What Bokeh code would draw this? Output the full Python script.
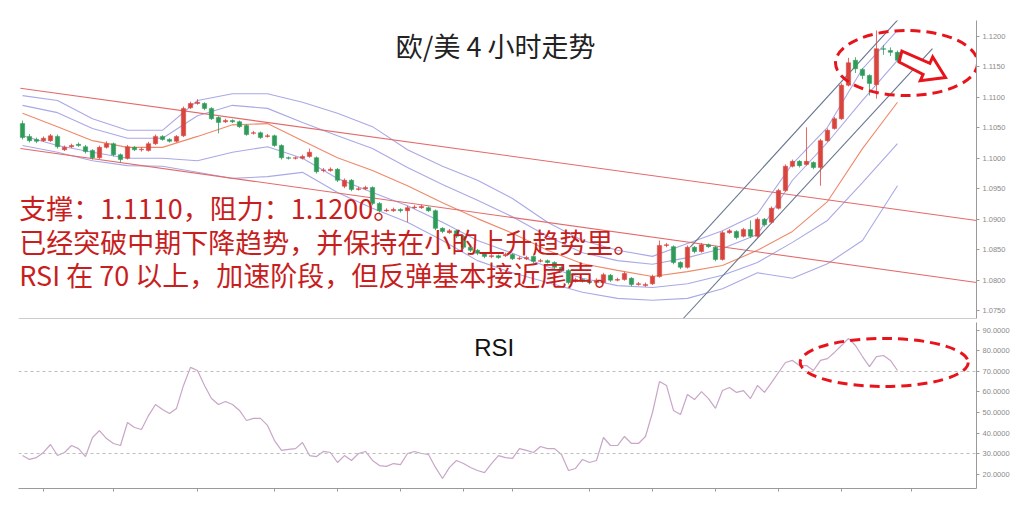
from bokeh.plotting import figure
from bokeh.models import ColumnDataSource, Span, Label, FixedTicker, NumeralTickFormatter, Range1d
from bokeh.layouts import column
from bokeh.embed import file_html
from bokeh.resources import INLINE

# ---------------- data (EUR/USD 4h candles) ----------------
opens = [1.1057, 1.1036, 1.1031, 1.1029, 1.1029, 1.1036, 1.1014, 1.1019, 1.1023, 1.1019,
         1.1013, 1.1001, 1.1018, 1.1024, 1.1006, 1.1000, 1.1018, 1.1014, 1.1013, 1.1024,
         1.1036, 1.1031, 1.1028, 1.1037, 1.1083, 1.1090, 1.1090, 1.1082, 1.1067, 1.1060,
         1.1062, 1.1060, 1.1054, 1.1041, 1.1042, 1.1036, 1.1037, 1.1021, 1.1001, 1.1000,
         1.1000, 1.1003, 1.1001, 1.0980, 1.0980, 1.0982, 1.0954, 1.0964, 1.0949, 1.0950,
         1.0952, 1.0926, 1.0914, 1.0914, 1.0916, 1.0914, 1.0919, 1.0919, 1.0919, 1.0914,
         1.0885, 1.0878, 1.0881, 1.0872, 1.0854, 1.0849, 1.0844, 1.0839, 1.0840, 1.0840,
         1.0842, 1.0835, 1.0835, 1.0839, 1.0831, 1.0832, 1.0829, 1.0821, 1.0816, 1.0798,
         1.0801, 1.0798, 1.0796, 1.0796, 1.0808, 1.0800, 1.0801, 1.0803, 1.0793, 1.0791,
         1.0794, 1.0806, 1.0857, 1.0855, 1.0829, 1.0821, 1.0854, 1.0847, 1.0858, 1.0854,
         1.0834, 1.0878, 1.0880, 1.0872, 1.0883, 1.0872, 1.0900, 1.0895, 1.0918, 1.0947,
         1.0987, 1.0995, 1.0990, 1.0993, 1.0985, 1.1029, 1.1049, 1.1065, 1.1120, 1.1161,
         1.1146, 1.1136, 1.1121, 1.1180, 1.1177, 1.1174]
closes = [1.1034, 1.1029, 1.1028, 1.1033, 1.1037, 1.1019, 1.1018, 1.1021, 1.1021, 1.1011,
          1.1001, 1.1018, 1.1024, 1.1006, 1.0998, 1.1019, 1.1014, 1.1015, 1.1024, 1.1036,
          1.1031, 1.1028, 1.1036, 1.1082, 1.1090, 1.1092, 1.1082, 1.1065, 1.1059, 1.1062,
          1.1060, 1.1052, 1.1039, 1.1042, 1.1034, 1.1037, 1.1021, 1.1001, 1.1000, 1.1001,
          1.1003, 1.1010, 1.0978, 1.0981, 1.0982, 1.0964, 1.0964, 1.0949, 1.0950, 1.0952,
          1.0926, 1.0914, 1.0915, 1.0916, 1.0914, 1.0919, 1.0920, 1.0921, 1.0914, 1.0885,
          1.0880, 1.0881, 1.0872, 1.0854, 1.0849, 1.0844, 1.0839, 1.0840, 1.0837, 1.0842,
          1.0835, 1.0836, 1.0837, 1.0831, 1.0832, 1.0829, 1.0821, 1.0816, 1.0796, 1.0801,
          1.0798, 1.0796, 1.0800, 1.0809, 1.0800, 1.0801, 1.0811, 1.0793, 1.0794, 1.0793,
          1.0806, 1.0857, 1.0858, 1.0829, 1.0821, 1.0854, 1.0847, 1.0858, 1.0855, 1.0834,
          1.0878, 1.0881, 1.0870, 1.0883, 1.0872, 1.0900, 1.0891, 1.0918, 1.0947, 1.0987,
          1.0995, 1.0988, 1.0995, 1.0985, 1.1029, 1.1046, 1.1065, 1.1120, 1.1157, 1.1147,
          1.1136, 1.1123, 1.1180, 1.1179, 1.1174, 1.1161]
highs = [1.1062, 1.1040, 1.1034, 1.1036, 1.1040, 1.1039, 1.1021, 1.1024, 1.1026, 1.1022,
         1.1015, 1.1021, 1.1028, 1.1026, 1.1008, 1.1022, 1.1020, 1.1018, 1.1027, 1.1039,
         1.1038, 1.1033, 1.1038, 1.1085, 1.1093, 1.1097, 1.1092, 1.1084, 1.1069, 1.1065,
         1.1064, 1.1062, 1.1056, 1.1045, 1.1044, 1.1040, 1.1039, 1.1023, 1.1003, 1.1003,
         1.1006, 1.1016, 1.1003, 1.0984, 1.0985, 1.0984, 1.0967, 1.0966, 1.0953, 1.0955,
         1.0954, 1.0928, 1.0918, 1.0919, 1.0918, 1.0922, 1.0923, 1.0924, 1.0921, 1.0916,
         1.0887, 1.0884, 1.0883, 1.0874, 1.0856, 1.0851, 1.0846, 1.0843, 1.0842, 1.0845,
         1.0844, 1.0839, 1.0840, 1.0841, 1.0835, 1.0834, 1.0831, 1.0823, 1.0818, 1.0804,
         1.0803, 1.0800, 1.0803, 1.0812, 1.0810, 1.0804, 1.0814, 1.0805, 1.0797, 1.0796,
         1.0809, 1.0865, 1.0861, 1.0857, 1.0831, 1.0857, 1.0856, 1.0861, 1.0860, 1.0856,
         1.0881, 1.0884, 1.0882, 1.0886, 1.0898, 1.0903, 1.0902, 1.0921, 1.0950, 1.0990,
         1.0998, 1.0997, 1.1051, 1.0995, 1.1032, 1.1049, 1.1068, 1.1123, 1.1165, 1.1166,
         1.1148, 1.1138, 1.1210, 1.1186, 1.1182, 1.1177]
lows = [1.1031, 1.1026, 1.1025, 1.1027, 1.1027, 1.1016, 1.1012, 1.1017, 1.1019, 1.1008,
        1.0998, 1.0999, 1.1016, 1.1003, 1.0993, 1.0998, 1.1012, 1.1011, 1.1011, 1.1022,
        1.1029, 1.1026, 1.1026, 1.1035, 1.1081, 1.1088, 1.1079, 1.1063, 1.1041, 1.1058,
        1.1058, 1.1050, 1.1037, 1.1039, 1.1032, 1.1034, 1.1019, 1.0998, 1.0998, 1.0998,
        1.0998, 1.1001, 1.0975, 1.0977, 1.0978, 1.0961, 1.0951, 1.0946, 1.0947, 1.0948,
        1.0923, 1.0911, 1.0912, 1.0912, 1.0911, 1.0895, 1.0917, 1.0917, 1.0912, 1.0882,
        1.0877, 1.0876, 1.0869, 1.0851, 1.0846, 1.0841, 1.0836, 1.0836, 1.0835, 1.0838,
        1.0833, 1.0833, 1.0833, 1.0828, 1.0829, 1.0827, 1.0818, 1.0813, 1.0793, 1.0796,
        1.0796, 1.0793, 1.0794, 1.0794, 1.0797, 1.0798, 1.0799, 1.0790, 1.0791, 1.0789,
        1.0792, 1.0804, 1.0854, 1.0826, 1.0818, 1.0819, 1.0844, 1.0845, 1.0853, 1.0831,
        1.0832, 1.0876, 1.0867, 1.0870, 1.0869, 1.0870, 1.0888, 1.0893, 1.0916, 1.0945,
        1.0985, 1.0985, 1.0988, 1.0982, 1.0955, 1.1027, 1.1047, 1.1063, 1.1118, 1.1140,
        1.1130, 1.1103, 1.1098, 1.1170, 1.1168, 1.1158]

# RSI(14) per candle
rsi = [29.0, 27.1, 28.0, 30.5, 34.4, 29.0, 30.5, 33.9, 32.4, 28.5,
       37.8, 41.2, 37.3, 34.9, 33.9, 45.1, 42.7, 41.7, 48.5, 53.9,
       51.5, 49.5, 52.0, 63.2, 72.0, 70.5, 63.2, 56.8, 53.9, 55.4,
       53.9, 51.0, 46.1, 47.1, 47.1, 43.7, 36.3, 31.5, 32.0, 32.4,
       35.4, 29.0, 28.5, 31.0, 30.5, 25.6, 29.0, 26.6, 30.0, 31.0,
       26.6, 24.1, 23.7, 25.1, 24.6, 30.0, 31.0, 30.0, 29.5, 23.2,
       17.8, 23.2, 26.6, 25.1, 23.2, 21.7, 20.7, 25.1, 29.0, 28.0,
       27.6, 32.4, 31.5, 30.5, 33.4, 32.4, 32.4, 29.5, 21.7, 22.7,
       27.1, 25.6, 26.6, 37.8, 33.9, 33.9, 38.3, 34.9, 34.9, 38.3,
       50.0, 65.1, 63.2, 51.0, 49.0, 58.8, 56.3, 60.2, 56.8, 52.0,
       60.7, 62.2, 59.8, 60.7, 56.8, 63.2, 59.8, 64.6, 69.5, 74.4,
       75.4, 72.9, 72.9, 70.5, 75.4, 76.3, 79.3, 82.7, 86.1, 82.7,
       77.3, 72.4, 77.3, 77.8, 75.4, 70.5]

# Bollinger-style bands read at every 5th candle
band_idx = [0, 5, 10, 15, 20, 25, 30, 35, 40, 45, 50, 55, 60, 65, 70, 75, 80, 85, 90, 95,
            100, 105, 110, 115, 120, 125]
band_up2 = [1.1103, 1.1095, 1.1065, 1.1046, 1.1046, 1.1095, 1.1106, 1.1106, 1.1092, 1.1074,
            1.1052, 1.1014, 1.0987, 1.0964, 1.0934, 1.0895, 1.0865, 1.0849, 1.0839, 1.0860,
            1.0881, 1.0909, 1.0991, 1.1051, 1.1147, 1.1210]
band_up1 = [1.1087, 1.1075, 1.1049, 1.1033, 1.1033, 1.1070, 1.1087, 1.1082, 1.1059, 1.1037,
            1.1016, 1.0985, 1.0957, 1.0931, 1.0904, 1.0872, 1.0845, 1.0832, 1.0826, 1.0837,
            1.0852, 1.0875, 1.0964, 1.1026, 1.1095, 1.1161]
band_mid = [1.1074, 1.1052, 1.1029, 1.1018, 1.1018, 1.1036, 1.1055, 1.1057, 1.1029, 1.1001,
            1.0980, 1.0955, 1.0927, 1.0901, 1.0877, 1.0849, 1.0827, 1.0816, 1.0806, 1.0814,
            1.0824, 1.0849, 1.0880, 1.0929, 1.1016, 1.1092]
band_lo1 = [1.1037, 1.1021, 1.1010, 1.1000, 1.1000, 1.0996, 1.1010, 1.1019, 1.1000, 1.0967,
            1.0944, 1.0922, 1.0895, 1.0865, 1.0844, 1.0822, 1.0803, 1.0791, 1.0788, 1.0794,
            1.0808, 1.0829, 1.0862, 1.0898, 1.0960, 1.1024]
band_lo2 = [1.1021, 1.1010, 1.0996, 1.0988, 1.0987, 1.0977, 1.0967, 1.0970, 1.0977, 1.0944,
            1.0918, 1.0895, 1.0865, 1.0832, 1.0812, 1.0796, 1.0780, 1.0770, 1.0767, 1.0770,
            1.0786, 1.0812, 1.0803, 1.0827, 1.0865, 1.0955]

# hand-drawn trend lines (candle index, price)
chan_down_hi = ([-0.3, 136.3], [1.1115, 1.0898])
chan_down_lo = ([-0.3, 136.3], [1.1016, 1.0796])
chan_up_a = ([95.4, 127.0], [1.0854, 1.1252])
chan_up_b = ([94.4, 130.0], [1.0737, 1.1180])

price_ticks = [1.075, 1.080, 1.085, 1.090, 1.095, 1.100, 1.105, 1.110, 1.115, 1.120]
rsi_ticks = [20, 30, 40, 50, 60, 70, 80, 90]
time_ticks = [3, 13, 25, 36, 45, 54, 63, 70, 81, 90, 99, 108, 117, 127]

title_text = "欧/美 4 小时走势"
notes = ["支撑：1.1110，阻力：1.1200。",
         "已经突破中期下降趋势，并保持在小的上升趋势里。",
         "RSI 在 70 以上，加速阶段，但反弹基本接近尾声。"]

# ---------------- styling ----------------
UP = "#d8453e"
DOWN = "#2f9a5a"
BAND = "#a9a9e6"
MID = "#ef8a6a"
CHAN = "#e46a6a"
STEEL = "#66758f"
HILITE = "#e8141c"
AXIS = "#9a9a9a"
CJK = "Noto Sans CJK SC"

idx = list(range(len(closes)))
colors = [UP if c >= o else DOWN for o, c in zip(opens, closes)]
src = ColumnDataSource(dict(x=idx, o=opens, c=closes, h=highs, l=lows, col=colors))

x_range = Range1d(-0.571, 136.29)

p1 = figure(width=1016, height=320, x_range=x_range, y_range=Range1d(1.0737, 1.12263),
            output_backend="svg", toolbar_location=None, y_axis_location="right",
            x_axis_location=None, min_border_left=18, min_border_right=40,
            min_border_top=20, min_border_bottom=2)
p1.grid.visible = False
p1.outline_line_color = None


def style_y(ax, ticks):
    ax.ticker = FixedTicker(ticks=ticks)
    ax.formatter = NumeralTickFormatter(format="0.0000")
    ax.axis_line_color = AXIS
    ax.major_tick_line_color = AXIS
    ax.major_tick_out = 3
    ax.major_tick_in = 0
    ax.minor_tick_line_color = None
    ax.major_label_text_font_size = "7.5px"
    ax.major_label_text_color = "#8a8a8a"
    ax.major_label_text_font = "Liberation Sans"
    ax.major_label_standoff = 3


style_y(p1.yaxis[0], price_ticks)
p1.add_layout(Span(location=1.0737, dimension="width", line_color=AXIS, line_width=1))

# bands
for ys in (band_up2, band_up1, band_lo1, band_lo2):
    p1.line(band_idx, ys, line_color=BAND, line_width=1.1)
p1.line(band_idx, band_mid, line_color=MID, line_width=1.1)

# trend lines
for xs, ys in (chan_down_hi, chan_down_lo):
    p1.line(xs, ys, line_color=CHAN, line_width=1.1)
for xs, ys in (chan_up_a, chan_up_b):
    p1.line(xs, ys, line_color=STEEL, line_width=1.1)

# candles
p1.segment(x0="x", y0="h", x1="x", y1="l", line_color="col", line_width=1, line_alpha=0.8, source=src)
p1.vbar(x="x", top="o", bottom="c", width=0.62, fill_color="col", line_color="col", line_width=0.5, source=src)

# highlight ellipse and arrow
p1.ellipse(x=[126.3], y=[1.11565], width=20.3, height=0.01067, fill_alpha=0,
           line_color=HILITE, line_width=3, line_dash="10 6")
arrow_x = [125.63, 129.63, 130.03, 131.86, 128.26, 128.66, 125.23]
arrow_y = [1.11762, 1.11560, 1.11665, 1.11327, 1.11274, 1.11379, 1.11581]
p1.patch(arrow_x, arrow_y, fill_color="white", line_color=HILITE, line_width=3, line_join="miter")

p1.add_layout(Label(x=67.6, y=1.1185, text=title_text, text_font=CJK, text_font_size="27px",
                    text_align="center", text_baseline="middle", text_color="#222222"))
note_y = [1.0919, 1.0864, 1.0810]
for t, yy in zip(notes, note_y):
    p1.add_layout(Label(x=-0.45, y=yy, text=t, text_font=CJK, text_font_size="27px",
                        text_align="left", text_baseline="middle", text_color="#c81e1e"))

# ---------------- RSI panel ----------------
p2 = figure(width=1016, height=180, x_range=x_range, y_range=Range1d(12.93, 93.9),
            output_backend="svg", toolbar_location=None, y_axis_location="right",
            min_border_left=18, min_border_right=40, min_border_top=2, min_border_bottom=12)
p2.grid.visible = False
p2.outline_line_color = None
style_y(p2.yaxis[0], rsi_ticks)
xa = p2.xaxis[0]
xa.ticker = FixedTicker(ticks=time_ticks)
xa.axis_line_color = AXIS
xa.major_tick_line_color = AXIS
xa.major_tick_out = 3
xa.major_tick_in = 0
xa.minor_tick_line_color = None
xa.major_label_text_font_size = "1px"
xa.major_label_text_color = None
xa.major_label_standoff = 0

for lv in (70, 30):
    p2.add_layout(Span(location=lv, dimension="width", line_color="#bdbdbd", line_width=1, line_dash="3 3"))
p2.line(idx, rsi, line_color="#c7a6c7", line_width=1.2)
p2.ellipse(x=[123.1], y=[74.4], width=24, height=23.4, fill_alpha=0,
           line_color=HILITE, line_width=3, line_dash="10 6")
p2.add_layout(Label(x=67.4, y=81.7, text="RSI", text_font="Liberation Sans", text_font_size="24px",
                    text_align="center", text_baseline="middle", text_color="#111111"))

layout = column(p1, p2)
open("out.html", "w").write(file_html(layout, INLINE))
